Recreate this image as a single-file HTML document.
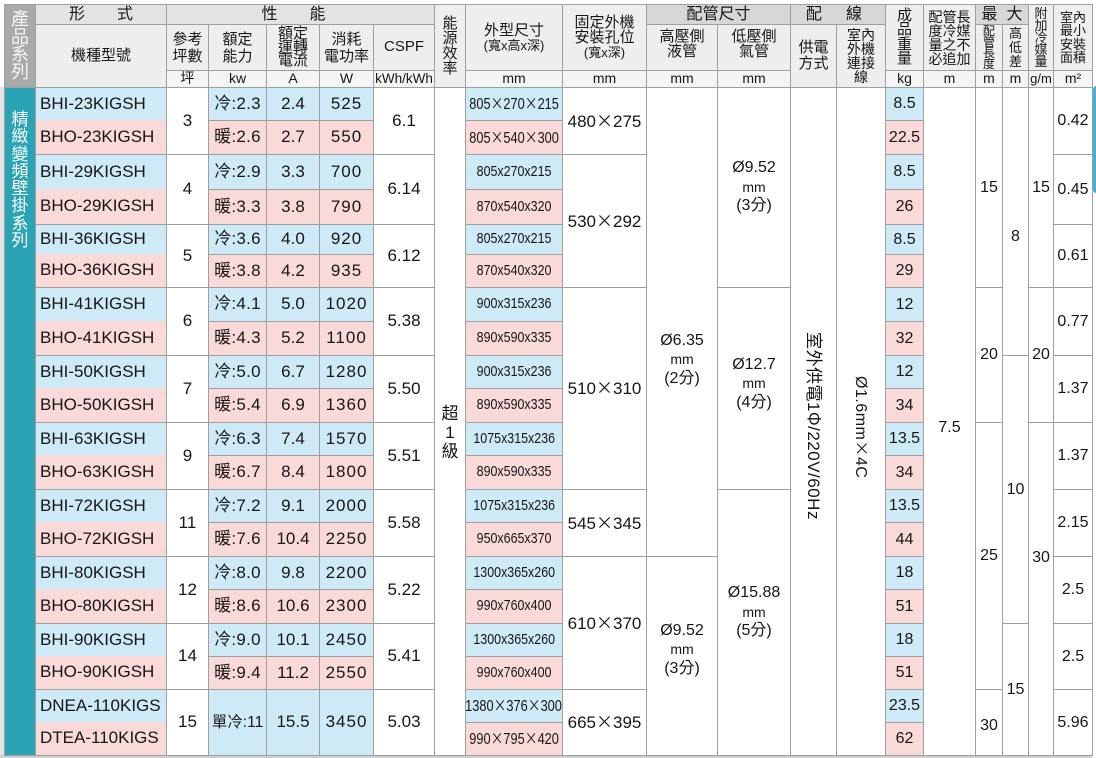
<!DOCTYPE html>
<html><head><meta charset="utf-8">
<style>
*{box-sizing:border-box}
body{margin:0;width:1096px;height:758px;background:#fff;position:relative;overflow:hidden;font-family:"Liberation Sans","Noto Sans CJK TC",sans-serif;color:#161616}
.g{position:absolute;left:4px;top:4px;width:1089px;height:752px;padding:1px;background:#9f9f9f;display:grid;gap:1px;
grid-template-columns:30px 130px 41px 57px 52px 53px 60px 30px 96px 83px 70px 72px 45px 48px 37px 51px 26px 25px 24px 38px;
grid-template-rows:19px 45px 16px 32px 33px 34px 34px 29px 32px 33px 33px 32px 33px 32px 33px 32px 33px 32px 33px 32px 32px 32px 32px;}
.g>div{background:#fff;display:flex;align-items:center;justify-content:center;text-align:center;white-space:nowrap;font-size:17px;line-height:1.1}
.g>.a{background:#e3e3e3;font-size:16px}
.g>.d{background:#d7d7d7;font-size:16px}
.g>.e{background:#eeeeee;font-size:15px}
.g>.u{background:#f4f4f4;font-size:14px}
.g>.b{background:#ceeaf6}
.g>.p{background:#fadad8}
.g>.m{grid-column:2;justify-content:flex-start;padding-left:4px}
.g>.m.p{margin-top:-1px}
.g>.q{grid-column:3}
.g>.k{grid-column:4;letter-spacing:.3px}
.g>.am{grid-column:5}
.g>.w{grid-column:6;letter-spacing:1px}
.g>.s{grid-column:7}
.g>.dm{grid-column:9}
.g>.kg{grid-column:15;font-size:16px}
.g>.ar{grid-column:20;font-size:16px}
.g>.r{font-size:16px}
.cj{font-family:"Noto Sans CJK TC",sans-serif}
.x1{display:inline-block;font-size:15px;transform:scaleX(.83)}
.x2{display:inline-block;font-size:16px;transform:scaleX(.8)}
.pp{font-size:16px;line-height:18.5px}
.pp small{font-size:14px}
.v{writing-mode:vertical-rl;text-orientation:sideways}
</style></head><body>
<div style="position:absolute;left:0;top:87px;width:4px;height:671px;background:#e3e3e3"></div>
<div style="position:absolute;left:0;top:755px;width:1092px;height:3px;background:#d0d0d0"></div>
<div style="position:absolute;left:1093px;top:86px;width:3px;height:107px;background:#40b0e0;border-radius:3px 0 0 3px"></div>
<div class="g">
<!-- header -->
<div class="e" style="grid-area:1/1/4/2;background:#a9a9a9;color:#f5f5f5;font-size:18px"><span style="line-height:17.5px">產<br>品<br>系<br>列</span></div>
<div class="a" style="grid-area:1/2/2/3">形&emsp;&emsp;式</div>
<div class="e" style="grid-area:2/2/4/3">機種型號</div>
<div class="a" style="grid-area:1/3/2/8;padding-right:14px">性&emsp;&emsp;能</div>
<div class="e" style="grid-area:2/3"><span style="line-height:17px">參考<br>坪數</span></div>
<div class="e" style="grid-area:2/4"><span style="line-height:17px">額定<br>能力</span></div>
<div class="e" style="grid-area:2/5"><span style="line-height:13.5px">額定<br>運轉<br>電流</span></div>
<div class="e" style="grid-area:2/6"><span style="line-height:17px">消耗<br>電功率</span></div>
<div class="e" style="grid-area:2/7">CSPF</div>
<div class="u" style="grid-area:3/3">坪</div>
<div class="u" style="grid-area:3/4">kw</div>
<div class="u" style="grid-area:3/5">A</div>
<div class="u" style="grid-area:3/6">W</div>
<div class="u" style="grid-area:3/7;font-size:13.5px">kWh/kWh</div>
<div class="e" style="grid-area:1/8/4/9"><span style="line-height:15px">能<br>源<br>效<br>率</span></div>
<div class="e" style="grid-area:1/9/3/10"><span style="line-height:15px">外型尺寸<br><span style="font-size:13px">(寬x高x深)</span></span></div>
<div class="e" style="grid-area:1/10/3/11"><span style="line-height:15px">固定外機<br>安裝孔位<br><span style="font-size:13px">(寬x深)</span></span></div>
<div class="d" style="grid-area:1/11/2/13">配管尺寸</div>
<div class="e" style="grid-area:2/11;padding-bottom:8px"><span style="line-height:15px">高壓側<br>液管</span></div>
<div class="e" style="grid-area:2/12;padding-bottom:8px"><span style="line-height:15px">低壓側<br>氣管</span></div>
<div class="u" style="grid-area:3/9">mm</div>
<div class="u" style="grid-area:3/10">mm</div>
<div class="u" style="grid-area:3/11">mm</div>
<div class="u" style="grid-area:3/12">mm</div>
<div class="d" style="grid-area:1/13/2/15;padding-right:8px"><span>配<span style="margin-left:24px">線</span></span></div>
<div class="e" style="grid-area:2/13/4/14"><span style="line-height:16px">供電<br>方式</span></div>
<div class="e" style="grid-area:2/14/4/15;font-size:14px"><span style="line-height:14px">室內<br>外機<br>連接<br>線</span></div>
<div class="e" style="grid-area:1/15/3/16"><span style="line-height:14.5px">成<br>品<br>重<br>量</span></div>
<div class="u" style="grid-area:3/15">kg</div>
<div class="e" style="grid-area:1/16/3/17;font-size:14px"><span style="line-height:14px">配管長<br>度冷媒<br>量之不<br>必追加</span></div>
<div class="u" style="grid-area:3/16">m</div>
<div class="d" style="grid-area:1/17/2/19"><span>最<span style="margin-left:9px">大</span></span></div>
<div class="e" style="grid-area:2/17;font-size:12px"><span style="line-height:11px">配<br>管<br>長<br>度</span></div>
<div class="e" style="grid-area:2/18;font-size:13px"><span style="line-height:14px">高<br>低<br>差</span></div>
<div class="u" style="grid-area:3/17">m</div>
<div class="u" style="grid-area:3/18">m</div>
<div class="e" style="grid-area:1/19/3/20;font-size:13px"><span style="line-height:12px">附<br>加<br>冷<br>媒<br>量</span></div>
<div class="u" style="grid-area:3/19;font-size:13px">g/m</div>
<div class="e" style="grid-area:1/20/3/21;font-size:13px"><span style="line-height:13.5px">室內<br>最小<br>安裝<br>面積</span></div>
<div class="u" style="grid-area:3/20">m²</div>

<!-- series -->
<div style="grid-area:4/1/24/2;background:#2aa3b4;color:#fff;align-items:flex-start;padding-top:23px"><span style="line-height:17.3px">精<br>緻<br>變<br>頻<br>壁<br>掛<br>系<br>列</span></div>

<!-- g0 -->
<div class="m b" style="grid-row:4">BHI-23KIGSH</div>
<div class="m p" style="grid-row:5">BHO-23KIGSH</div>
<div class="q" style="grid-row:4/6">3</div>
<div class="k b" style="grid-row:4">冷:2.3</div>
<div class="k p" style="grid-row:5">暖:2.6</div>
<div class="am b" style="grid-row:4">2.4</div>
<div class="am p" style="grid-row:5">2.7</div>
<div class="w b" style="grid-row:4">525</div>
<div class="w p" style="grid-row:5">550</div>
<div class="s" style="grid-row:4/6">6.1</div>
<div class="dm b" style="grid-row:4"><span class="x2">805<span class="cj">×</span>270<span class="cj">×</span>215</span></div>
<div class="dm p" style="grid-row:5"><span class="x2">805<span class="cj">×</span>540<span class="cj">×</span>300</span></div>
<div class="kg b" style="grid-row:4">8.5</div>
<div class="kg p" style="grid-row:5">22.5</div>
<div class="ar" style="grid-row:4/6">0.42</div>
<!-- g1 -->
<div class="m b" style="grid-row:6">BHI-29KIGSH</div>
<div class="m p" style="grid-row:7">BHO-29KIGSH</div>
<div class="q" style="grid-row:6/8">4</div>
<div class="k b" style="grid-row:6">冷:2.9</div>
<div class="k p" style="grid-row:7">暖:3.3</div>
<div class="am b" style="grid-row:6">3.3</div>
<div class="am p" style="grid-row:7">3.8</div>
<div class="w b" style="grid-row:6">700</div>
<div class="w p" style="grid-row:7">790</div>
<div class="s" style="grid-row:6/8">6.14</div>
<div class="dm b" style="grid-row:6"><span class="x1">805x270x215</span></div>
<div class="dm p" style="grid-row:7"><span class="x1">870x540x320</span></div>
<div class="kg b" style="grid-row:6">8.5</div>
<div class="kg p" style="grid-row:7">26</div>
<div class="ar" style="grid-row:6/8">0.45</div>
<!-- g2 -->
<div class="m b" style="grid-row:8">BHI-36KIGSH</div>
<div class="m p" style="grid-row:9">BHO-36KIGSH</div>
<div class="q" style="grid-row:8/10">5</div>
<div class="k b" style="grid-row:8">冷:3.6</div>
<div class="k p" style="grid-row:9">暖:3.8</div>
<div class="am b" style="grid-row:8">4.0</div>
<div class="am p" style="grid-row:9">4.2</div>
<div class="w b" style="grid-row:8">920</div>
<div class="w p" style="grid-row:9">935</div>
<div class="s" style="grid-row:8/10">6.12</div>
<div class="dm b" style="grid-row:8"><span class="x1">805x270x215</span></div>
<div class="dm p" style="grid-row:9"><span class="x1">870x540x320</span></div>
<div class="kg b" style="grid-row:8">8.5</div>
<div class="kg p" style="grid-row:9">29</div>
<div class="ar" style="grid-row:8/10">0.61</div>
<!-- g3 -->
<div class="m b" style="grid-row:10">BHI-41KIGSH</div>
<div class="m p" style="grid-row:11">BHO-41KIGSH</div>
<div class="q" style="grid-row:10/12">6</div>
<div class="k b" style="grid-row:10">冷:4.1</div>
<div class="k p" style="grid-row:11">暖:4.3</div>
<div class="am b" style="grid-row:10">5.0</div>
<div class="am p" style="grid-row:11">5.2</div>
<div class="w b" style="grid-row:10">1020</div>
<div class="w p" style="grid-row:11">1100</div>
<div class="s" style="grid-row:10/12">5.38</div>
<div class="dm b" style="grid-row:10"><span class="x1">900x315x236</span></div>
<div class="dm p" style="grid-row:11"><span class="x1">890x590x335</span></div>
<div class="kg b" style="grid-row:10">12</div>
<div class="kg p" style="grid-row:11">32</div>
<div class="ar" style="grid-row:10/12">0.77</div>
<!-- g4 -->
<div class="m b" style="grid-row:12">BHI-50KIGSH</div>
<div class="m p" style="grid-row:13">BHO-50KIGSH</div>
<div class="q" style="grid-row:12/14">7</div>
<div class="k b" style="grid-row:12">冷:5.0</div>
<div class="k p" style="grid-row:13">暖:5.4</div>
<div class="am b" style="grid-row:12">6.7</div>
<div class="am p" style="grid-row:13">6.9</div>
<div class="w b" style="grid-row:12">1280</div>
<div class="w p" style="grid-row:13">1360</div>
<div class="s" style="grid-row:12/14">5.50</div>
<div class="dm b" style="grid-row:12"><span class="x1">900x315x236</span></div>
<div class="dm p" style="grid-row:13"><span class="x1">890x590x335</span></div>
<div class="kg b" style="grid-row:12">12</div>
<div class="kg p" style="grid-row:13">34</div>
<div class="ar" style="grid-row:12/14">1.37</div>
<!-- g5 -->
<div class="m b" style="grid-row:14">BHI-63KIGSH</div>
<div class="m p" style="grid-row:15">BHO-63KIGSH</div>
<div class="q" style="grid-row:14/16">9</div>
<div class="k b" style="grid-row:14">冷:6.3</div>
<div class="k p" style="grid-row:15">暖:6.7</div>
<div class="am b" style="grid-row:14">7.4</div>
<div class="am p" style="grid-row:15">8.4</div>
<div class="w b" style="grid-row:14">1570</div>
<div class="w p" style="grid-row:15">1800</div>
<div class="s" style="grid-row:14/16">5.51</div>
<div class="dm b" style="grid-row:14"><span class="x1">1075x315x236</span></div>
<div class="dm p" style="grid-row:15"><span class="x1">890x590x335</span></div>
<div class="kg b" style="grid-row:14">13.5</div>
<div class="kg p" style="grid-row:15">34</div>
<div class="ar" style="grid-row:14/16">1.37</div>
<!-- g6 -->
<div class="m b" style="grid-row:16">BHI-72KIGSH</div>
<div class="m p" style="grid-row:17">BHO-72KIGSH</div>
<div class="q" style="grid-row:16/18">11</div>
<div class="k b" style="grid-row:16">冷:7.2</div>
<div class="k p" style="grid-row:17">暖:7.6</div>
<div class="am b" style="grid-row:16">9.1</div>
<div class="am p" style="grid-row:17">10.4</div>
<div class="w b" style="grid-row:16">2000</div>
<div class="w p" style="grid-row:17">2250</div>
<div class="s" style="grid-row:16/18">5.58</div>
<div class="dm b" style="grid-row:16"><span class="x1">1075x315x236</span></div>
<div class="dm p" style="grid-row:17"><span class="x1">950x665x370</span></div>
<div class="kg b" style="grid-row:16">13.5</div>
<div class="kg p" style="grid-row:17">44</div>
<div class="ar" style="grid-row:16/18">2.15</div>
<!-- g7 -->
<div class="m b" style="grid-row:18">BHI-80KIGSH</div>
<div class="m p" style="grid-row:19">BHO-80KIGSH</div>
<div class="q" style="grid-row:18/20">12</div>
<div class="k b" style="grid-row:18">冷:8.0</div>
<div class="k p" style="grid-row:19">暖:8.6</div>
<div class="am b" style="grid-row:18">9.8</div>
<div class="am p" style="grid-row:19">10.6</div>
<div class="w b" style="grid-row:18">2200</div>
<div class="w p" style="grid-row:19">2300</div>
<div class="s" style="grid-row:18/20">5.22</div>
<div class="dm b" style="grid-row:18"><span class="x1">1300x365x260</span></div>
<div class="dm p" style="grid-row:19"><span class="x1">990x760x400</span></div>
<div class="kg b" style="grid-row:18">18</div>
<div class="kg p" style="grid-row:19">51</div>
<div class="ar" style="grid-row:18/20">2.5</div>
<!-- g8 -->
<div class="m b" style="grid-row:20">BHI-90KIGSH</div>
<div class="m p" style="grid-row:21">BHO-90KIGSH</div>
<div class="q" style="grid-row:20/22">14</div>
<div class="k b" style="grid-row:20">冷:9.0</div>
<div class="k p" style="grid-row:21">暖:9.4</div>
<div class="am b" style="grid-row:20">10.1</div>
<div class="am p" style="grid-row:21">11.2</div>
<div class="w b" style="grid-row:20">2450</div>
<div class="w p" style="grid-row:21">2550</div>
<div class="s" style="grid-row:20/22">5.41</div>
<div class="dm b" style="grid-row:20"><span class="x1">1300x365x260</span></div>
<div class="dm p" style="grid-row:21"><span class="x1">990x760x400</span></div>
<div class="kg b" style="grid-row:20">18</div>
<div class="kg p" style="grid-row:21">51</div>
<div class="ar" style="grid-row:20/22">2.5</div>
<!-- g9 -->
<div class="m b" style="grid-row:22">DNEA-110KIGS</div>
<div class="m p" style="grid-row:23">DTEA-110KIGS</div>
<div class="q" style="grid-row:22/24">15</div>
<div class="k b" style="grid-row:22/24;font-size:15.5px;letter-spacing:0">單冷:11</div>
<div class="am b" style="grid-row:22/24">15.5</div>
<div class="w b" style="grid-row:22/24">3450</div>
<div class="s" style="grid-row:22/24">5.03</div>
<div class="dm b" style="grid-row:22"><span class="x2">1380<span class="cj">×</span>376<span class="cj">×</span>300</span></div>
<div class="dm p" style="grid-row:23"><span class="x2">990<span class="cj">×</span>795<span class="cj">×</span>420</span></div>
<div class="kg b" style="grid-row:22">23.5</div>
<div class="kg p" style="grid-row:23">62</div>
<div class="ar" style="grid-row:22/24">5.96</div>

<!-- merged columns -->
<div style="grid-area:4/8/24/9;padding-top:22px"><span style="line-height:19px">超<br>1<br>級</span></div>
<div style="grid-area:4/10/6/11"><span>480<span class="cj">×</span>275</span></div>
<div style="grid-area:6/10/10/11"><span>530<span class="cj">×</span>292</span></div>
<div style="grid-area:10/10/16/11"><span>510<span class="cj">×</span>310</span></div>
<div style="grid-area:16/10/18/11"><span>545<span class="cj">×</span>345</span></div>
<div style="grid-area:18/10/22/11"><span>610<span class="cj">×</span>370</span></div>
<div style="grid-area:22/10/24/11"><span>665<span class="cj">×</span>395</span></div>

<div style="grid-area:4/11/18/12;padding-top:76px"><span class="pp">Ø6.35<br><small>mm</small><br>(2分)</span></div>
<div style="grid-area:18/11/24/12;padding-bottom:12px"><span class="pp">Ø9.52<br><small>mm</small><br>(3分)</span></div>
<div style="grid-area:4/12/10/13"><span class="pp">Ø9.52<br><small>mm</small><br>(3分)</span></div>
<div style="grid-area:10/12/16/13;padding-bottom:9px"><span class="pp">Ø12.7<br><small>mm</small><br>(4分)</span></div>
<div style="grid-area:16/12/24/13;padding-bottom:20px"><span class="pp">Ø15.88<br><small>mm</small><br>(5分)</span></div>

<div style="grid-area:4/13/24/14;padding-top:8px"><span class="v" style="font-size:17px;letter-spacing:.5px">室外供電1<span class="cj">Φ</span>/220V/60Hz</span></div>
<div style="grid-area:4/14/24/15;padding-top:12px"><span class="v" style="font-size:16px;letter-spacing:.5px">Ø1.6mm<span class="cj">×</span>4C</span></div>

<div style="grid-area:4/16/24/17;padding-top:12px;font-size:16px">7.5</div>

<div class="r" style="grid-area:4/17/10/18">15</div>
<div class="r" style="grid-area:10/17/14/18">20</div>
<div class="r" style="grid-area:14/17/22/18">25</div>
<div class="r" style="grid-area:22/17/24/18;padding-top:6px">30</div>

<div class="r" style="grid-area:4/18/12/19;padding-top:30px">8</div>
<div class="r" style="grid-area:12/18/20/19">10</div>
<div class="r" style="grid-area:20/18/24/19">15</div>

<div class="r" style="grid-area:4/19/10/20">15</div>
<div class="r" style="grid-area:10/19/14/20">20</div>
<div class="r" style="grid-area:14/19/24/20;padding-bottom:63px">30</div>
</div>
</body></html>
